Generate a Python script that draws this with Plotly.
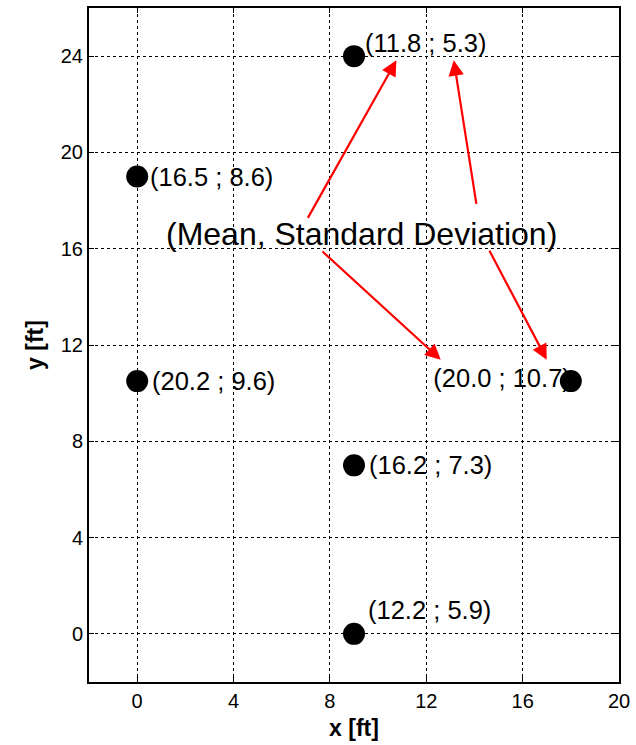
import plotly.graph_objects as go

# ---- data ----
x_pos = [0, 0, 9, 9, 9, 18]
y_pos = [19, 10.5, 24, 7, 0, 10.5]
mean_vals = [16.5, 20.2, 11.8, 16.2, 12.2, 20.0]
std_vals = [8.6, 9.6, 5.3, 7.3, 5.9, 10.7]
x_ticks = [0, 4, 8, 12, 16, 20]
y_ticks = [0, 4, 8, 12, 16, 20, 24]

labels = ["(%.1f ; %.1f)" % (m, s) for m, s in zip(mean_vals, std_vals)]

# label pixel offsets (style), None => drawn as text left of marker
label_shift = [(11, 0), (13, 0), (9, 13), (13, 0), (12, 24), None]

# arrow annotation geometry (tail -> head) in data units
arrows = [
    ((7.05, 17.22), (10.76, 23.83)),
    ((7.63, 15.94), (12.60, 11.39)),
    ((14.09, 17.80), (13.14, 23.83)),
    ((14.59, 15.98), (17.00, 11.39)),
]
caption = "(Mean, Standard Deviation)"
caption_pos = (9.3, 16.6)

FONT = "Liberation Sans, Arial, sans-serif"
LABEL_SIZE = 25.5

fig = go.Figure()

# label drawn beneath the markers (overlapping one)
left_idx = [i for i, s in enumerate(label_shift) if s is None]
fig.add_trace(go.Scatter(
    x=[x_pos[i] for i in left_idx], y=[y_pos[i] for i in left_idx],
    text=[labels[i] for i in left_idx], mode="text",
    textposition="middle left",
    textfont=dict(family=FONT, size=LABEL_SIZE, color="black"),
    hoverinfo="skip", showlegend=False))

fig.add_trace(go.Scatter(
    x=x_pos, y=y_pos, mode="markers",
    marker=dict(size=22, color="black", line=dict(width=0)),
    showlegend=False))

annotations = []
for i, s in enumerate(label_shift):
    if s is None:
        continue
    annotations.append(dict(
        x=x_pos[i], y=y_pos[i], xref="x", yref="y", text=labels[i],
        showarrow=False, xanchor="left", yanchor="middle",
        xshift=s[0], yshift=s[1],
        font=dict(family=FONT, size=LABEL_SIZE, color="black")))

annotations.append(dict(
    x=caption_pos[0], y=caption_pos[1], xref="x", yref="y", text=caption,
    showarrow=False, xanchor="center", yanchor="middle",
    font=dict(family=FONT, size=32, color="black")))

for (tx, ty), (hx, hy) in arrows:
    annotations.append(dict(
        x=hx, y=hy, ax=tx, ay=ty, xref="x", yref="y", axref="x", ayref="y",
        text="", showarrow=True, arrowhead=2, arrowsize=1.4, arrowwidth=2.2,
        arrowcolor="red", standoff=0, startstandoff=0))

axis_common = dict(
    showline=True, linecolor="black", linewidth=2, mirror="allticks",
    ticks="inside", ticklen=5, tickwidth=1, tickcolor="black",
    showgrid=True, gridcolor="black", gridwidth=1, griddash="dot",
    zeroline=False, tickfont=dict(family=FONT, size=20, color="black"),
)

fig.update_xaxes(range=[-2, 20], tickvals=x_ticks, ticktext=[str(v) for v in x_ticks],
                 title=dict(text="<b>x [ft]</b>", font=dict(family=FONT, size=23, color="black"), standoff=9),
                 **axis_common)
fig.update_yaxes(range=[-2, 26], tickvals=y_ticks, ticktext=[str(v) for v in y_ticks],
                 title=dict(text="<b>y [ft]</b>", font=dict(family=FONT, size=23, color="black"), standoff=11),
                 **axis_common)

fig.update_layout(
    width=636, height=745,
    margin=dict(l=89, r=15, t=6, b=63, pad=0),
    plot_bgcolor="white", paper_bgcolor="white",
    annotations=annotations,
    showlegend=False,
)

fig.write_html("out.html")
